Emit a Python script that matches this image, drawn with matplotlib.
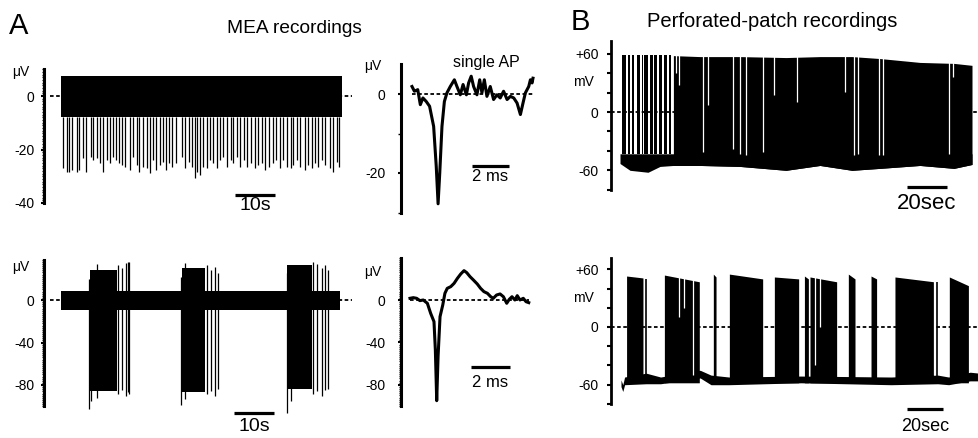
import numpy as np
import matplotlib
import matplotlib.pyplot as plt

matplotlib.use('Agg')
plt.rcParams['font.family'] = ['Liberation Sans', 'DejaVu Sans']

# ---------------- data ----------------
# A, top: MEA recording, tonic firing (time in s, voltage in uV)
mea1_duration = 70.2
mea1_noise_low, mea1_noise_high = -8.0, 7.5
mea1_spike_t = [0.6, 1.4, 2.0, 2.7, 3.9, 4.6, 5.6, 6.3, 7.4, 8.1, 8.9, 9.8, 10.6, 11.4,
                12.3, 12.9, 13.8, 14.5, 15.2, 16.0, 17.3, 18.1, 18.9, 19.6, 20.6, 21.4,
                22.3, 23.1, 23.8, 24.8, 25.6, 26.3, 27.1, 27.8, 28.7, 30.2, 31.1, 31.9,
                32.7, 33.5, 34.1, 34.8, 35.6, 36.4, 37.3, 38.1, 38.9, 39.8, 40.6, 41.4,
                42.4, 43.1, 44.1, 44.8, 45.8, 46.6, 47.4, 48.5, 49.3, 50.2, 51.0, 52.1,
                52.9, 53.8, 54.8, 55.6, 56.6, 57.4, 58.1, 58.9, 59.8, 61.0, 61.8, 62.7,
                63.5, 64.3, 65.2, 66.0, 67.3, 68.1, 68.9, 69.6]
mea1_spike_v = [-27.0, -28.3, -28.3, -27.6, -28.3, -27.6, -23.3, -28.3, -22.7, -23.9,
                -23.3, -25.2, -28.3, -23.9, -25.2, -22.7, -23.9, -25.2, -25.8, -26.4,
                -27.6, -22.7, -25.8, -28.3, -26.4, -27.0, -28.9, -23.9, -27.6, -25.8,
                -24.5, -27.6, -25.2, -26.4, -25.2, -22.7, -27.0, -24.5, -26.4, -30.8,
                -28.3, -29.5, -26.4, -27.0, -23.9, -25.2, -27.0, -23.9, -22.7, -26.4,
                -23.9, -25.2, -22.7, -26.4, -23.9, -26.4, -25.2, -27.0, -25.8, -25.2,
                -27.6, -26.4, -25.2, -23.9, -27.0, -23.9, -26.4, -27.0, -25.8, -23.9,
                -26.4, -27.6, -25.8, -27.0, -25.2, -26.4, -23.9, -25.8, -27.0, -28.3,
                -24.5, -26.4]

# A, bottom: MEA recording, bursting
mea2_duration = 69.8
mea2_noise_low, mea2_noise_high = -9.4, 8.8
mea2_burst_start = [7.3, 30.2, 56.6]
mea2_burst_end = [13.9, 36.0, 62.7]
mea2_burst_top = [28, 30, 33]
mea2_burst_bottom = [-86, -87, -84]
mea2_spike_t = [7.0, 7.6, 9.0, 14.3, 15.2, 16.2, 16.8, 17.1,
                30.0, 31.0, 36.4, 37.4, 38.5, 39.3,
                56.4, 57.5, 63.1, 63.9, 65.2, 66.0, 66.8]
mea2_spike_top = [20, 28, 34, 33, 30, 35, 36, 36,
                  22, 35, 33, 28, 31, 25,
                  25, 32, 36, 34, 30, 33, 28]
mea2_spike_bottom = [-103, -95, -92, -88, -85, -90, -87, -88,
                     -99, -93, -88, -86, -90, -84,
                     -106, -95, -88, -86, -90, -85, -84]

# A, insets: single action potentials (time in ms, voltage in uV)
ap1_t = [0, 0.13, 0.31, 0.45, 0.59, 0.77, 0.95, 1.17, 1.31, 1.41, 1.50, 1.62, 1.75,
         1.89, 2.07, 2.29, 2.43, 2.61, 2.76, 2.94, 3.06, 3.20, 3.33, 3.51, 3.66, 3.78,
         3.91, 4.05, 4.23, 4.41, 4.59, 4.77, 4.95, 5.14, 5.32, 5.50, 5.68, 5.86, 6.00,
         6.13, 6.31, 6.40, 6.49, 6.54]
ap1_v = [1.9, 0.7, 1.1, -2.7, -1.0, -1.9, -3.1, -8.2, -18.3, -27.8, -20.0, -8.2, -1.9,
         0.3, 1.9, 3.6, 1.9, -0.2, 2.4, -0.2, 2.8, 4.5, 1.9, -0.2, 3.6, 0.3,
         3.6, -0.6, 1.9, -1.4, -0.2, -1.0, 0.7, -1.4, -0.6, -1.0, -2.3, -5.2, -2.3,
         0.3, 1.9, 3.6, 2.8, 4.0]
ap2_t = [0, 0.17, 0.34, 0.51, 0.68, 0.89, 1.06, 1.23, 1.30, 1.37, 1.44, 1.54, 1.68,
         1.79, 1.91, 2.09, 2.26, 2.43, 2.60, 2.77, 2.91, 3.08, 3.25, 3.45, 3.62, 3.79,
         3.97, 4.14, 4.27, 4.44, 4.62, 4.79, 4.96, 5.09, 5.23, 5.38, 5.50, 5.64, 5.81,
         5.95, 6.09]
ap2_v = [1.6, 2.2, 1.6, -0.6, 0.0, -3.1, -12.6, -20.4, -47.0, -95.0, -53.0, -15.7, -4.7,
         6.3, 11.0, 12.6, 15.7, 20.4, 24.5, 27.7, 25.8, 22.0, 18.9, 15.1, 11.0, 7.9,
         6.3, 3.1, 1.6, 4.7, 5.7, 3.1, -3.1, 0.6, 3.1, 0.0, 4.1, 0.0, 1.6,
         -1.6, -2.5]

# B, top: perforated patch, tonic firing (time in s, voltage in mV)
pp1_duration = 176
pp1_env_t = [0, 5, 14, 20, 26.7, 40, 60, 83, 100, 116, 130, 150, 167, 176]
pp1_env_top = [60, 59, 58, 58, 58, 57, 57, 56, 57, 57, 55, 51, 50, 48]
pp1_env_bottom = [-53, -60, -62, -56, -55, -55, -56, -60, -55, -60, -58, -55, -58, -54]
pp1_isi_level = -43
pp1_run_start = [0.8, 4.2, 5.8, 8.3, 10.8, 12.2, 15.0, 17.2, 19.7, 22.2, 24.3]
pp1_run_end = [3.0, 5.0, 7.2, 10.0, 11.3, 14.2, 16.3, 18.5, 21.2, 23.3, 25.5]
pp1_dense_start = 26.7
pp1_pause_t = [28.0, 29.5, 41.3, 44.2, 56.7, 60.0, 63.0, 71.7, 77.2, 88.7,
               112.5, 117.2, 119.2, 129.7, 131.7, 164.7, 166.7]
pp1_pause_bottom = [40, 28, -41, 7, -38, -43, -44, -41, 17, 10,
                    21, -44, -43, -44, -44, -43, 36]

# B, bottom: perforated patch, bursting
pp2_duration = 199
pp2_base_t = [0, 1, 2, 14, 22, 44, 50, 60, 100, 150, 176, 182, 194, 199]
pp2_base_top = [-55, -60, -52, -48, -52, -45, -50, -52, -51, -52, -50, -52, -47, -48]
pp2_base_bottom = [-62, -67, -60, -59, -59, -53, -60, -60, -58, -60, -59, -60, -56, -56]
pp2_burst_start = [3.1, 24.1, 51.3, 60.2, 85.2, 101.9, 105.0, 126.3, 138.9, 152.2, 182.4]
pp2_burst_end = [12.2, 43.5, 52.8, 78.7, 98.7, 104.1, 119.8, 130.0, 142.0, 173.8, 193.0]
pp2_burst_top_start = [53, 54, 55, 55, 52, 53, 52, 55, 53, 52, 52]
pp2_burst_top_end = [51, 47, 52, 50, 50, 50, 47, 50, 50, 47, 43]
pp2_burst_bottom = -58
pp2_spike_t = [13.9, 175.4]
pp2_spike_top = [50, 47]
pp2_pause_t = [32.4, 35.0, 40.2, 107.8, 110.6, 174.0]
pp2_pause_bottom = [10, 20, -50, -40, 0, -50]

# ---------------- figure ----------------
W, H = 979, 438
fig = plt.figure(figsize=(W / 100, H / 100), dpi=100)


def fx(px):
    return px / W


def fy(py):
    return 1 - py / H


def panel(left, right, top, bottom, x0, xs, y0, ys):
    # axes whose left spine sits at pixel `left`; x0/y0 = pixel of zero, xs/ys = px per unit
    ax = fig.add_axes([fx(left), fy(bottom), (right - left) / W, (bottom - top) / H])
    ax.set_xlim((left - x0) / xs, (right - x0) / xs)
    ax.set_ylim((y0 - bottom) / ys, (y0 - top) / ys)
    ax.patch.set_visible(False)
    for s in ['top', 'right', 'bottom']:
        ax.spines[s].set_visible(False)
    ax.set_xticks([])
    return ax


def yaxis(ax, lo, hi, major, labels, minor, lw=2.2, tlen=2, pad=5, mlen=1.5):
    ax.spines['left'].set_bounds(lo, hi)
    ax.spines['left'].set_linewidth(lw)
    ax.set_yticks(major, labels)
    ax.set_yticks(minor, minor=True)
    ax.tick_params(axis='y', which='major', length=tlen, width=1.5, pad=pad, labelsize=10)
    ax.tick_params(axis='y', which='minor', length=mlen, width=1.0)


def zero_line(ax, a, b):
    ax.plot([a, b], [0, 0], color='k', lw=1.3, ls=(0, (2, 1.4)), zorder=0.5, clip_on=False)


def scalebar(ax, t0, length, v, label, fs, dy):
    ax.plot([t0, t0 + length], [v, v], color='k', lw=2.3, solid_capstyle='butt', clip_on=False)
    ax.text(t0 + length / 2, v + dy, label, ha='center', va='center', fontsize=fs)


# ---- A top ----
ax = panel(44, 356, 60, 222, 61, 4.0, 96, 2.675)
yaxis(ax, -40, 10, [0, -20, -40], ['0', '-20', '-40'], np.arange(-40, 11, 1))
zero_line(ax, -2.75, 72.75)
ax.fill_between([0, mea1_duration], mea1_noise_low, mea1_noise_high, color='k', lw=0)
ax.vlines(mea1_spike_t, mea1_noise_low, mea1_spike_v, color='k', lw=0.9)
scalebar(ax, 43.5, 10, -37, '10s', 14, -4.0)

# ---- A bottom ----
ax = panel(44, 356, 250, 438, 61, 4.0, 300, 1.0625)
yaxis(ax, -100, 38, [0, -40, -80], ['0', '-40', '-80'], np.arange(-100, 39, 2))
zero_line(ax, -2.75, 72.75)
ax.fill_between([0, mea2_duration], mea2_noise_low, mea2_noise_high, color='k', lw=0)
for s, e, tp, bt in zip(mea2_burst_start, mea2_burst_end, mea2_burst_top, mea2_burst_bottom):
    ax.fill_between([s, e], bt, tp, color='k', lw=0)
ax.vlines(mea2_spike_t, mea2_spike_bottom, mea2_spike_top, color='k', lw=0.9)
scalebar(ax, 43.25, 10, -106, '10s', 14, -13)

# ---- A insets ----
ax = panel(401, 545, 55, 215, 412, 18.5, 94, 3.95)
yaxis(ax, -30, 7.5, [0, -20], ['0', '-20'], [-10, -30], tlen=2, pad=9, mlen=2)
zero_line(ax, 0, 6.54)
ax.plot(ap1_t, ap1_v, color='k', lw=2.2, solid_joinstyle='round')
scalebar(ax, 3.24, 2, -18.2, '2 ms', 12, -2.8)

ax = panel(401, 545, 250, 420, 410, 19.5, 300, 1.06)
yaxis(ax, -100, 40, [0, -40, -80], ['0', '-40', '-80'], np.arange(-100, 41, 2), pad=9)
zero_line(ax, 0, 6.09)
ax.plot(ap2_t, ap2_v, color='k', lw=2.2, solid_joinstyle='round')
scalebar(ax, 3.13, 2, -63, '2 ms', 12, -15)

# ---- B top ----
ax = panel(611, 979, 35, 215, 620, 2.0, 112, 0.972)
yaxis(ax, -80, 73, [60, 0, -60], ['+60', '0', '-60'], [-80, -40, -20, 20, 40],
      lw=2.0, tlen=3, pad=6, mlen=3)
ax.tick_params(axis='y', which='minor', width=1.5)
zero_line(ax, -4.5, 179)
# baseline between spikes
ax.fill_between(pp1_env_t, pp1_env_bottom, pp1_isi_level, color='k', lw=0)
# sparse spikes at the start
for s, e in zip(pp1_run_start, pp1_run_end):
    ax.fill_between([s, e], pp1_isi_level, 59, color='k', lw=0)
# dense firing afterwards
i0 = pp1_env_t.index(pp1_dense_start)
ax.fill_between(pp1_env_t[i0:], pp1_env_bottom[i0:], pp1_env_top[i0:], color='k', lw=0)
ax.vlines(pp1_pause_t, pp1_pause_bottom, 64, color='white', lw=0.9)
scalebar(ax, 143.5, 20, -77, '20sec', 16, -17)

# ---- B bottom ----
ax = panel(611, 979, 250, 438, 621, 1.8, 327, 0.962)
yaxis(ax, -80, 72, [60, 0, -60], ['+60', '0', '-60'], [-80, -40, -20, 20, 40],
      lw=2.0, tlen=3, pad=6, mlen=3)
ax.tick_params(axis='y', which='minor', width=1.5)
zero_line(ax, -5.6, 199)
ax.fill_between(pp2_base_t, pp2_base_bottom, pp2_base_top, color='k', lw=0)
for s, e, a, b in zip(pp2_burst_start, pp2_burst_end, pp2_burst_top_start, pp2_burst_top_end):
    ax.fill_between([s, e], pp2_burst_bottom, [a, b], color='k', lw=0)
ax.vlines(pp2_spike_t, pp2_burst_bottom, pp2_spike_top, color='k', lw=1.2)
ax.vlines(pp2_pause_t, pp2_pause_bottom, 60, color='white', lw=0.9)
scalebar(ax, 158.9, 20, -85, '20sec', 13, -18)

# ---- labels ----
fig.text(fx(9), fy(34), 'A', fontsize=21, va='baseline')
fig.text(fx(227), fy(33), 'MEA recordings', fontsize=13.8, va='baseline')
fig.text(fx(571), fy(30), 'B', fontsize=21, va='baseline')
fig.text(fx(647), fy(27), 'Perforated-patch recordings', fontsize=14.5, va='baseline')
fig.text(fx(29), fy(72), 'μV', fontsize=10, ha='right', va='center')
fig.text(fx(29), fy(267), 'μV', fontsize=10, ha='right', va='center')
fig.text(fx(381), fy(66), 'μV', fontsize=10, ha='right', va='center')
fig.text(fx(381), fy(272), 'μV', fontsize=10, ha='right', va='center')
fig.text(fx(486), fy(63), 'single AP', fontsize=11.5, ha='center', va='center')
fig.text(fx(594), fy(82), 'mV', fontsize=10, ha='right', va='center')
fig.text(fx(594), fy(298), 'mV', fontsize=10, ha='right', va='center')

fig.savefig('out.png', dpi=100)
